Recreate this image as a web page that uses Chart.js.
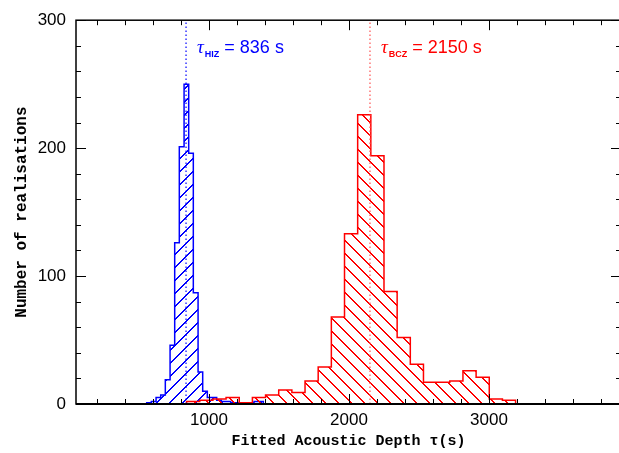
<!DOCTYPE html>
<html><head><meta charset="utf-8">
<script src="https://cdn.jsdelivr.net/npm/chart.js@4.4.1/dist/chart.umd.min.js"></script>
<style>html,body{margin:0;padding:0;background:#fff;overflow:hidden}#wrap{position:relative;width:625px;height:453px}</style>
</head><body><div id="wrap"><canvas id="c" width="625" height="453"></canvas></div>
<script>
// ---- data ----
const blueEdges  = [555,588,622,655,688,722,755,788,822,855,888,922,955,988,1022,1055,1088,1122,1155,1188,1222,1255,1288,1322,1355,1388];
const blueCounts = [1,2,5,7,19,46,126,201,250,196,87,25,10,5,5,3,2,2,1,1,1,1,1,2,2];
const redEdges   = [840,934,1028,1122,1216,1310,1404,1498,1592,1686,1780,1874,1968,2062,2156,2250,2344,2438,2532,2626,2720,2814,2908,3002,3096,3190];
const redCounts  = [2,3,4,5,1,5,7,11,9,18,29,68,133,226,194,88,52,31,17,17,18,26,21,4,3];
const tauHIZ = 836;
const tauBCZ = 2150;
const xTickLabels = [1000, 2000, 3000];
const yTickLabels = [0, 100, 200, 300];
const xMinorStep = 200, xMajorStep = 1000;
const yMinorStep = 20,  yMajorStep = 100;
const xRange = [50, 3943];
const yRange = [0, 300];
const xTitle = 'Fitted Acoustic Depth \u03C4(s)';
const yTitle = 'Number of realisations';
const annHIZ = {sym:'\u03C4', sub:'HIZ', rest:' = 836 s'};
const annBCZ = {sym:'\u03C4', sub:'BCZ', rest:' = 2150 s'};

const BLUE = 'rgb(0,0,255)', RED = 'rgb(255,0,0)';

function stepPoints(edges, counts){
  const pts = [{x:edges[0], y:0}];
  for (let i=0;i<counts.length;i++) pts.push({x:edges[i], y:counts[i]});
  pts.push({x:edges[edges.length-1], y:counts[counts.length-1]});
  pts.push({x:edges[edges.length-1], y:0});
  return pts;
}
const canvas = document.getElementById('c');
const mainCtx = canvas.getContext('2d');
function hatch(color, up){
  const s = 13;
  const c = document.createElement('canvas'); c.width = s; c.height = s;
  const g = c.getContext('2d');
  g.fillStyle = color;
  for (let i = 0; i < s; i++) {
    const yy = up ? s - 1 - i : i;
    g.fillRect(i, yy, 1, 1);
    g.fillRect((i + 1) % s, yy, 1, 1);
  }
  return mainCtx.createPattern(c, 'repeat');
}

const framePlugin = {
  id: 'frame',
  afterDraw(chart){
    const {ctx, chartArea:a, scales:{x, y}} = chart;
    ctx.save();
    ctx.strokeStyle = '#000';
    const seg = (x1,y1,x2,y2)=>{ctx.beginPath();ctx.moveTo(x1,y1);ctx.lineTo(x2,y2);ctx.stroke();};
    ctx.lineWidth = 1;
    for (let v = xMinorStep; v <= x.max; v += xMinorStep){
      if (v < x.min) continue;
      const px = Math.round(x.getPixelForValue(v)) + 0.5;
      const L = (v % xMajorStep === 0) ? 10 : 5;
      seg(px, a.bottom, px, a.bottom - L);
      seg(px, a.top, px, a.top + L);
    }
    for (let v = yRange[0]; v <= yRange[1]; v += yMinorStep){
      const py = Math.round(y.getPixelForValue(v)) + 0.5;
      const L = (v % yMajorStep === 0) ? 10 : 5;
      seg(a.left, py, a.left + L, py);
      seg(a.right, py, a.right - L, py);
    }
    ctx.lineWidth = 1.5;
    ctx.strokeRect(a.left, a.top, a.right - a.left, a.bottom - a.top);
    ctx.lineWidth = 2;
    seg(a.left, a.bottom, a.right, a.bottom);
    // annotations
    const drawAnn = (ann, tau, color) => {
      let px = x.getPixelForValue(tau) + 11;
      const by = y.getPixelForValue(274);
      ctx.fillStyle = color;
      ctx.textBaseline = 'alphabetic';
      ctx.textAlign = 'left';
      ctx.font = 'italic 19px "Liberation Serif", "DejaVu Serif", serif';
      ctx.fillText(ann.sym, px, by);
      px += ctx.measureText(ann.sym).width + 1;
      ctx.font = 'bold 9px "Liberation Sans", Arial, sans-serif';
      ctx.fillText(ann.sub, px, by + 4);
      px += ctx.measureText(ann.sub).width;
      ctx.font = '18px "Liberation Sans", Arial, sans-serif';
      ctx.fillText(ann.rest, px, by);
    };
    drawAnn(annHIZ, tauHIZ, BLUE);
    drawAnn(annBCZ, tauBCZ, RED);
    ctx.restore();
  }
};

new Chart(canvas, {
  type: 'line',
  data: {
    datasets: [
      { data: [{x:tauHIZ, y:yRange[0]}, {x:tauHIZ, y:yRange[1]}], borderColor: BLUE, borderWidth: 1.2, borderDash: [1.5, 2.5], pointRadius: 0, fill: false },
      { data: [{x:tauBCZ, y:yRange[0]}, {x:tauBCZ, y:yRange[1]}], borderColor: 'rgb(255,80,80)', borderWidth: 1.2, borderDash: [1.5, 2.5], pointRadius: 0, fill: false },
      { data: stepPoints(redEdges, redCounts), stepped: 'before', borderColor: RED, borderWidth: 1.5, backgroundColor: hatch(RED, false), fill: 'origin', pointRadius: 0 },
      { data: stepPoints(blueEdges, blueCounts), stepped: 'before', borderColor: BLUE, borderWidth: 1.5, backgroundColor: hatch(BLUE, true), fill: 'origin', pointRadius: 0 }
    ]
  },
  options: {
    responsive: false,
    animation: false,
    layout: { padding: { top: 14, right: 4, left: 0, bottom: 0 } },
    plugins: { legend: { display: false }, tooltip: { enabled: false } },
    scales: {
      x: {
        type: 'linear', min: xRange[0], max: xRange[1],
        grid: { display: false, drawTicks: false }, border: { display: false },
        afterBuildTicks: s => { s.ticks = xTickLabels.map(v => ({value: v})); },
        afterFit: s => { s.height = 49; },
        ticks: { color: '#000', padding: 6, maxRotation: 0, autoSkip: false, callback: v => String(v), font: { family: '"Liberation Sans", Arial, sans-serif', size: 17 } },
        title: { display: true, text: xTitle, color: '#000', padding: { top: 0, bottom: 3 }, font: { family: '"Liberation Mono", "DejaVu Sans Mono", monospace', size: 15, weight: 'bold' } }
      },
      y: {
        type: 'linear', min: yRange[0], max: yRange[1],
        grid: { display: false, drawTicks: false }, border: { display: false },
        afterBuildTicks: s => { s.ticks = yTickLabels.map(v => ({value: v})); },
        afterFit: s => { s.width = 76; },
        ticks: { color: '#000', padding: 10, callback: v => String(v), font: { family: '"Liberation Sans", Arial, sans-serif', size: 17 } },
        title: { display: true, text: yTitle, color: '#000', padding: { top: 12, bottom: 0 }, font: { family: '"Liberation Mono", "DejaVu Sans Mono", monospace', size: 16, weight: 'bold' } }
      }
    }
  },
  plugins: [framePlugin]
});
</script></body></html>
